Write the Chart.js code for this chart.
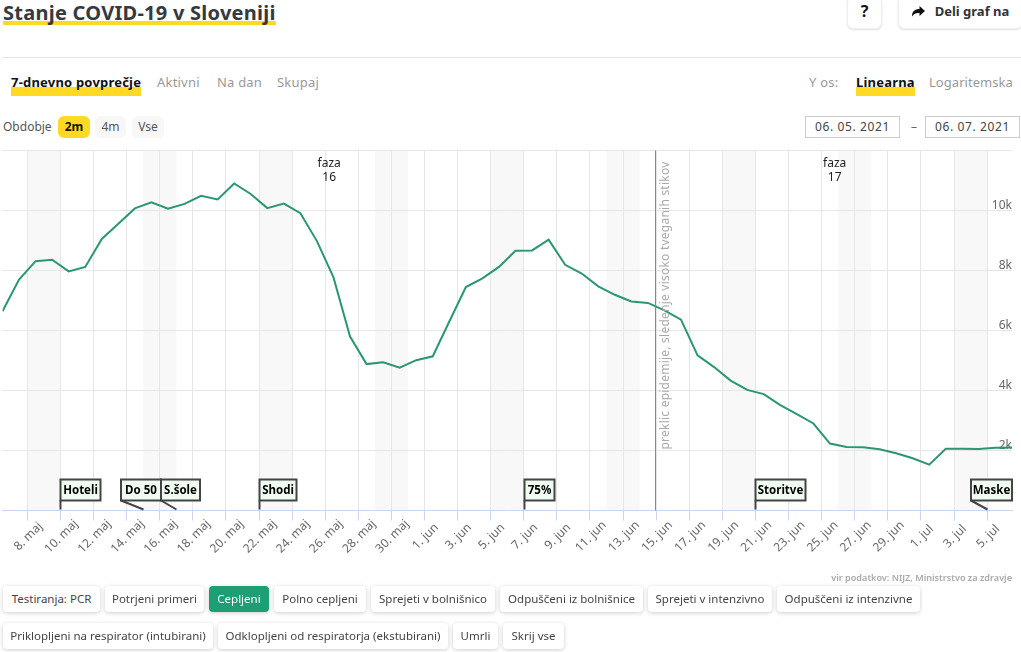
<!DOCTYPE html>
<html lang="sl">
<head>
<meta charset="utf-8">
<title>Stanje COVID-19 v Sloveniji</title>
<script src="https://cdn.jsdelivr.net/npm/chart.js@4"></script>
<style>
  html, body { margin: 0; padding: 0; background: #fff; }
  body { width: 1021px; height: 652px; overflow: hidden; position: relative;
         font-family: "Noto Sans", sans-serif; font-size: 13px; color: #333; }
  .abs { position: absolute; white-space: nowrap; }
  h1 { position: absolute; left: 3px; top: 0; margin: 0; font-size: 20px; font-weight: 700; line-height: 25px;
       color: #343a40; box-shadow: inset 0 -4px 0 #ffd922; letter-spacing: .26px; }
  .rule { position: absolute; left: 3px; right: 0; top: 57px; height: 1px; background: #e5e5e5; }
  .tab { position: absolute; top: 73px; line-height: 19px; color: #999; font-size: 13px; letter-spacing: .2px; }
  .tab.on { color: #111; font-weight: 700; box-shadow: inset 0 -9px 0 #ffd922; height: 23px; }
  .per { position: absolute; top: 116px; height: 22px; line-height: 21px; text-align: center; border-radius: 6px;
         background: #f7f7f7; color: #555; font-size: 12px; }
  .per.on { background: #ffd922; color: #111; font-weight: 700; }
  .date { position: absolute; top: 116px; height: 20px; line-height: 20px; border: 1px solid #ccc; text-align: center;
          color: #444; font-size: 12px; letter-spacing: .6px; box-sizing: content-box; }
  .top-btn { position: absolute; top: -4px; height: 31px; border: 1px solid #eee; border-radius: 6px; background: #fff;
             box-shadow: 0 1px 2px rgba(0,0,0,.12); font-weight: 700; text-align: center; line-height: 28px; }
  .btn { position: absolute; height: 26px; line-height: 25px; border-radius: 4px; background: #fff; text-align: center;
         box-shadow: 0 1px 4px rgba(0,0,0,.2); font-size: 11.5px; color: #444; }
  .btn.on { background: #1d9e75; color: #fff; }
  #wrap { position: absolute; left: 0; top: 140px; width: 1021px; height: 440px; }
  #src { position: absolute; right: 9px; top: 571px; font-size: 9.1px; line-height: 13px; color: #aaa; font-weight: 600; }
</style>
</head>
<body>
<h1>Stanje COVID-19 v Sloveniji</h1>
<div class="top-btn" style="left:847px;width:33px;font-size:16px;color:#111">?</div>
<div class="top-btn" style="left:898px;width:123px;border-right:0;font-size:13px;color:#333">
  <svg width="13" height="11" viewBox="0 0 13 11" style="margin-right:10px;vertical-align:-1px"><path d="M13 5 L7.5 0 V3 C3 3 0 5 0 10.5 C2 7.5 4.5 6.5 7.5 7 V10 Z" fill="#111"/></svg>Deli graf na
</div>
<div class="rule"></div>

<div class="tab on" style="left:11px">7-dnevno povprečje</div>
<div class="tab" style="left:157px">Aktivni</div>
<div class="tab" style="left:217px">Na dan</div>
<div class="tab" style="left:277px">Skupaj</div>
<div class="tab" style="left:809px">Y os:</div>
<div class="tab on" style="left:856px">Linearna</div>
<div class="tab" style="left:929px;letter-spacing:.05px">Logaritemska</div>

<div class="abs" style="left:3px;top:118px;font-size:12px;color:#555">Obdobje</div>
<div class="per on" style="left:58px;width:32px">2m</div>
<div class="per" style="left:95px;width:31px">4m</div>
<div class="per" style="left:132px;width:32px">Vse</div>
<div class="date" style="left:805px;width:93px">06. 05. 2021</div>
<div class="abs" style="left:911px;top:118px;color:#666;font-size:12px">–</div>
<div class="date" style="left:925px;width:93px">06. 07. 2021</div>

<div id="wrap"><canvas id="chart"></canvas></div>
<div id="src">vir podatkov: NIJZ, Ministrstvo za zdravje</div>

<div class="btn" style="left:3px;top:586px;width:97px">Testiranja: PCR</div>
<div class="btn" style="left:105px;top:586px;width:99px">Potrjeni primeri</div>
<div class="btn on" style="left:209px;top:586px;width:60px">Cepljeni</div>
<div class="btn" style="left:274px;top:586px;width:92px">Polno cepljeni</div>
<div class="btn" style="left:371px;top:586px;width:124px">Sprejeti v bolnišnico</div>
<div class="btn" style="left:500px;top:586px;width:143px">Odpuščeni iz bolnišnice</div>
<div class="btn" style="left:648px;top:586px;width:124px">Sprejeti v intenzivno</div>
<div class="btn" style="left:777px;top:586px;width:143px">Odpuščeni iz intenzivne</div>
<div class="btn" style="left:3px;top:623px;width:210px">Priklopljeni na respirator (intubirani)</div>
<div class="btn" style="left:218px;top:623px;width:230px">Odklopljeni od respiratorja (ekstubirani)</div>
<div class="btn" style="left:453px;top:623px;width:45px">Umrli</div>
<div class="btn" style="left:503px;top:623px;width:61px">Skrij vse</div>

<script>
const days = [
  "6. maj","7. maj","8. maj","9. maj","10. maj","11. maj","12. maj","13. maj","14. maj","15. maj",
  "16. maj","17. maj","18. maj","19. maj","20. maj","21. maj","22. maj","23. maj","24. maj","25. maj",
  "26. maj","27. maj","28. maj","29. maj","30. maj","31. maj","1. jun","2. jun","3. jun","4. jun",
  "5. jun","6. jun","7. jun","8. jun","9. jun","10. jun","11. jun","12. jun","13. jun","14. jun",
  "15. jun","16. jun","17. jun","18. jun","19. jun","20. jun","21. jun","22. jun","23. jun","24. jun",
  "25. jun","26. jun","27. jun","28. jun","29. jun","30. jun","1. jul","2. jul","3. jul","4. jul",
  "5. jul","6. jul"
];
const cepljeni = [
  6640,7700,8310,8360,7970,8120,9050,9560,10070,10270,
  10060,10220,10490,10370,10900,10550,10080,10230,9910,8980,
  7770,5800,4880,4940,4760,5010,5140,6300,7450,7740,
  8120,8660,8670,9030,8190,7900,7470,7190,6970,6920,
  6670,6360,5170,4780,4330,4020,3880,3510,3210,2900,
  2230,2120,2110,2040,1910,1740,1530,2060,2060,2050,
  2090,2100
];
const tickLabels = [
  "8. maj","10. maj","12. maj","14. maj","16. maj","18. maj","20. maj","22. maj","24. maj","26. maj",
  "28. maj","30. maj","1. jun","3. jun","5. jun","7. jun","9. jun","11. jun","13. jun","15. jun",
  "17. jun","19. jun","21. jun","23. jun","25. jun","27. jun","29. jun","1. jul","3. jul","5. jul"
];
const yTicks = [0, 2000, 4000, 6000, 8000, 10000, 12000];
const weekends = ["8. maj","15. maj","22. maj","29. maj","5. jun","12. jun","19. jun","26. jun","3. jul"];
const flagDays = ["10. maj","15. maj","17. maj","22. maj","7. jun","21. jun","5. jul"];
const flagTexts = ["Hoteli","Do 50","S.šole","Shodi","75%","Storitve","Maske"];
const phaseDays = ["26. maj", "26. jun"];
const phaseTexts = [["faza", "16"], ["faza", "17"]];
const noticeDay = "15. jun";
const noticeText = "preklic epidemije, sledenje visoko tveganih stikov";

// layout of the annotations, in pixels
const flagShifts = [0, -22.5, -15.5, 0, 0, 0, -16.5];
const flagWidths = [40, 40, 39, 37, 30, 50, 41];
const phaseShifts = [4, -3.5];

const FONT = '"Noto Sans", sans-serif';
// ticks sit at midnight, points at noon of the same day
const tickPos = label => days.indexOf(label) - 0.5;

const decorations = {
  id: "decorations",
  beforeDraw(chart) {
    const { ctx, chartArea: a, scales: { x } } = chart;
    ctx.save();
    ctx.fillStyle = "#f8f8f8";
    weekends.forEach(d => {
      const l = x.getPixelForValue(tickPos(d));
      const r = x.getPixelForValue(tickPos(d) + 2);
      ctx.fillRect(l, a.top, r - l, a.bottom - a.top);
    });
    ctx.restore();
  },
  afterDatasetsDraw(chart) {
    const { ctx, chartArea: a, scales: { x } } = chart;
    ctx.save();

    // rotated tick labels, centred on their ticks
    ctx.fillStyle = "#666";
    ctx.font = "12px " + FONT;
    ctx.textAlign = "center";
    ctx.textBaseline = "middle";
    tickLabels.forEach(t => {
      ctx.save();
      ctx.translate(x.getPixelForValue(tickPos(t)) + 1, a.bottom + 26);
      ctx.rotate(-Math.PI / 4);
      ctx.fillText(t, 0, 0);
      ctx.restore();
    });

    // plot line with its vertical note
    const nx = Math.round(x.getPixelForValue(tickPos(noticeDay))) - 0.5;
    ctx.save();
    ctx.translate(nx + 10, a.bottom - 61);
    ctx.rotate(-Math.PI / 2);
    ctx.fillStyle = "#aaa";
    ctx.font = "12px " + FONT;
    ctx.letterSpacing = "0.23px";
    ctx.textAlign = "left";
    ctx.fillText(noticeText, 0, 0);
    ctx.restore();
    ctx.strokeStyle = "#888";
    ctx.lineWidth = 1;
    ctx.beginPath();
    ctx.moveTo(nx, a.top);
    ctx.lineTo(nx, a.bottom);
    ctx.stroke();

    // phase labels
    ctx.fillStyle = "#222";
    ctx.font = "12px " + FONT;
    phaseDays.forEach((d, i) => {
      const px = x.getPixelForValue(tickPos(d)) + phaseShifts[i];
      ctx.fillText(phaseTexts[i][0], px, a.top + 13);
      ctx.fillText(phaseTexts[i][1], px, a.top + 27.5);
    });

    // flags
    ctx.font = "bold 11.5px " + FONT;
    flagDays.forEach((d, i) => {
      const px = Math.round(x.getPixelForValue(tickPos(d))) + 0.5;
      const left = px + flagShifts[i];
      const w = flagWidths[i];
      const top = a.bottom - 31, bottom = a.bottom - 10;
      ctx.fillStyle = "#f0fbf1";
      ctx.strokeStyle = "#444";
      ctx.lineWidth = 2;
      ctx.fillRect(left, top, w, bottom - top);
      ctx.strokeRect(left, top, w, bottom - top);
      ctx.beginPath();
      ctx.moveTo(left, bottom);
      ctx.lineTo(px, a.bottom - 1);
      ctx.stroke();
      ctx.fillStyle = "#000";
      ctx.fillText(flagTexts[i], left + w / 2, top + 11);
    });
    ctx.restore();
  }
};

new Chart(document.getElementById("chart"), {
  type: "line",
  data: {
    datasets: [{
      label: "Cepljeni",
      data: cepljeni.map((v, i) => ({ x: i, y: v })),
      borderColor: "#2a9673",
      borderWidth: 2,
      pointRadius: 0,
      tension: 0
    }]
  },
  options: {
    responsive: true,
    maintainAspectRatio: false,
    animation: false,
    layout: { padding: { left: 2.5, right: 9, top: 10.5, bottom: 59.5 } },
    plugins: { legend: { display: false }, tooltip: { enabled: false } },
    scales: {
      x: {
        type: "linear",
        min: 0,
        max: days.length - 1,
        afterBuildTicks(scale) {
          scale.ticks = tickLabels.map(t => ({ value: tickPos(t) }));
        },
        afterFit(scale) { scale.height = 10; },
        grid: { color: "#e6e6e6", tickColor: "#ccd6eb", tickLength: 10 },
        border: { color: "#ccd6eb" },
        ticks: { display: false, autoSkip: false }
      },
      y: {
        position: "right",
        min: 0,
        max: 12000,
        afterBuildTicks(scale) {
          scale.ticks = yTicks.map(v => ({ value: v }));
        },
        afterFit(scale) { scale.width = 0; },
        grid: { color: "#e6e6e6", drawTicks: false },
        border: { display: false },
        ticks: {
          mirror: true,
          padding: 0,
          labelOffset: -5,
          color: "#666",
          font: { family: FONT, size: 12 },
          callback: v => (v > 0 && v < 12000 ? v / 1000 + "k" : "")
        }
      }
    }
  },
  plugins: [decorations]
});
</script>
</body>
</html>
